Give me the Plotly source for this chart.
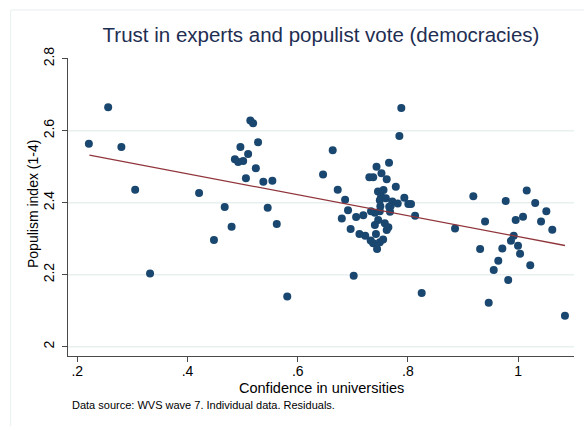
import plotly.graph_objects as go

# Confidence in universities (x) and populism index residual (y)
conf_x = [
    0.221, 0.256, 0.280, 0.305, 0.332, 0.421, 0.448, 0.4675, 0.480, 0.486,
    0.492, 0.501, 0.496, 0.510, 0.506, 0.514, 0.519, 0.524, 0.528, 0.5376,
    0.554, 0.5455, 0.562, 0.581,
    0.646, 0.6635, 0.6726, 0.686, 0.6913, 0.680, 0.696, 0.7016, 0.706, 0.719,
    0.733, 0.740, 0.749, 0.743, 0.7657, 0.730, 0.737, 0.752, 0.7615, 0.778,
    0.7457, 0.7557, 0.7513, 0.749, 0.760, 0.7717, 0.7815, 0.7687, 0.7935, 0.8007,
    0.8056, 0.813, 0.7675, 0.766, 0.746, 0.740, 0.758, 0.7645, 0.7615, 0.712,
    0.7225, 0.742, 0.7324, 0.737, 0.744, 0.749, 0.755, 0.7845, 0.788, 0.825,
    0.750,
    0.8855, 0.9187, 0.940, 0.931, 0.9466, 0.9557, 0.964, 0.9713, 0.982, 0.9775,
    0.9956, 1.0089, 0.992, 0.987, 0.9998, 1.0035, 1.022, 1.0156, 1.031, 1.0512,
    1.0416, 1.062, 1.085,
]
populism_y = [
    2.564, 2.665, 2.555, 2.436, 2.203, 2.427, 2.296, 2.388, 2.333, 2.521,
    2.513, 2.516, 2.555, 2.535, 2.468, 2.628, 2.621, 2.496, 2.568, 2.458,
    2.461, 2.386, 2.341, 2.139,
    2.478, 2.546, 2.436, 2.408, 2.379, 2.356, 2.327, 2.197, 2.360, 2.365,
    2.376, 2.372, 2.376, 2.500, 2.511, 2.4705, 2.4705, 2.482, 2.465, 2.444,
    2.431, 2.435, 2.417, 2.407, 2.412, 2.403, 2.398, 2.391, 2.414, 2.396,
    2.396, 2.364, 2.375, 2.389, 2.352, 2.338, 2.343, 2.332, 2.324, 2.313,
    2.308, 2.313, 2.295, 2.287, 2.271, 2.290, 2.298, 2.585, 2.663, 2.149,
    2.390,
    2.328, 2.418, 2.348, 2.271, 2.122, 2.213, 2.239, 2.273, 2.185, 2.405,
    2.352, 2.361, 2.308, 2.294, 2.280, 2.258, 2.226, 2.434, 2.399, 2.376,
    2.348, 2.325, 2.086,
]

# Fitted line (linear fit) endpoints
fit_x = [0.222, 1.085]
fit_y = [2.532, 2.281]

x_tickvals = [0.2, 0.4, 0.6, 0.8, 1.0]
x_ticktext = [".2", ".4", ".6", ".8", "1"]
y_tickvals = [2.0, 2.2, 2.4, 2.6, 2.8]
y_ticktext = ["2", "2.2", "2.4", "2.6", "2.8"]
grid_vals = [2.0, 2.2, 2.4, 2.6]

FONT = "Liberation Sans, Arial, sans-serif"
NAVY = "#1a476f"
MAROON = "#90353b"
AXIS = "#4a4a4a"
GRID = "#e8eff0"

fig = go.Figure()
fig.add_trace(go.Scatter(
    x=conf_x, y=populism_y, mode="markers",
    marker=dict(color=NAVY, size=8, line=dict(width=0)),
    showlegend=False, hoverinfo="skip",
))
fig.add_trace(go.Scatter(
    x=fit_x, y=fit_y, mode="lines",
    line=dict(color=MAROON, width=1.3),
    showlegend=False, hoverinfo="skip",
))

shapes = []
for g in grid_vals:
    shapes.append(dict(type="line", xref="paper", yref="y", x0=0, x1=1, y0=g, y1=g,
                       line=dict(color=GRID, width=1.5), layer="below"))
# outer graph-region frame
shapes.append(dict(type="rect", xref="paper", yref="paper",
                   x0=-0.1133, x1=1.2, y0=-0.4, y1=1.161,
                   line=dict(color="#e9eff0", width=1), layer="below"))

fig.update_layout(
    width=584, height=426,
    margin=dict(l=68, r=10, t=58, b=70),
    paper_bgcolor="white", plot_bgcolor="white",
    font=dict(family=FONT, color="black", size=14),
    title=dict(text="Trust in experts and populist vote (democracies)",
               x=0.5, xref="paper", xanchor="center",
               y=1 - 35 / 426, yanchor="middle",
               font=dict(family=FONT, size=20.5, color="#1e2e52")),
    shapes=shapes,
    xaxis=dict(range=[0.1831, 1.1014], tickmode="array", tickvals=x_tickvals,
               ticktext=x_ticktext, showgrid=False, zeroline=False,
               showline=True, linecolor=AXIS, linewidth=1,
               ticks="outside", ticklen=5, tickcolor=AXIS, tickwidth=1,
               ticklabelstandoff=-3,
               tickfont=dict(size=14, family=FONT, color="black")),
    yaxis=dict(range=[1.974, 2.802], tickmode="array", tickvals=y_tickvals,
               ticktext=y_ticktext, showgrid=False, zeroline=False,
               showline=True, linecolor=AXIS, linewidth=1,
               ticks="outside", ticklen=5, tickcolor=AXIS, tickwidth=1,
               tickangle=-90, ticklabelstandoff=2,
               tickfont=dict(size=14, family=FONT, color="black")),
    annotations=[
        dict(text="Confidence in universities", xref="paper", yref="paper",
             x=0.5, y=(356 - 388) / 298, xanchor="center", yanchor="middle",
             showarrow=False, font=dict(size=14.5, family=FONT, color="black")),
        dict(text="Populism index (1-4)", xref="paper", yref="paper",
             x=(33 - 68) / 506, y=(356 - 204) / 298, xanchor="center", yanchor="middle",
             textangle=-90, showarrow=False,
             font=dict(size=14, family=FONT, color="black")),
        dict(text="Data source: WVS wave 7. Individual data. Residuals.",
             xref="paper", yref="paper", x=(70 - 68) / 506, y=(356 - 405) / 298,
             xanchor="left", yanchor="middle", showarrow=False,
             font=dict(size=11, family=FONT, color="black")),
    ],
)

fig.write_html("out.html")
